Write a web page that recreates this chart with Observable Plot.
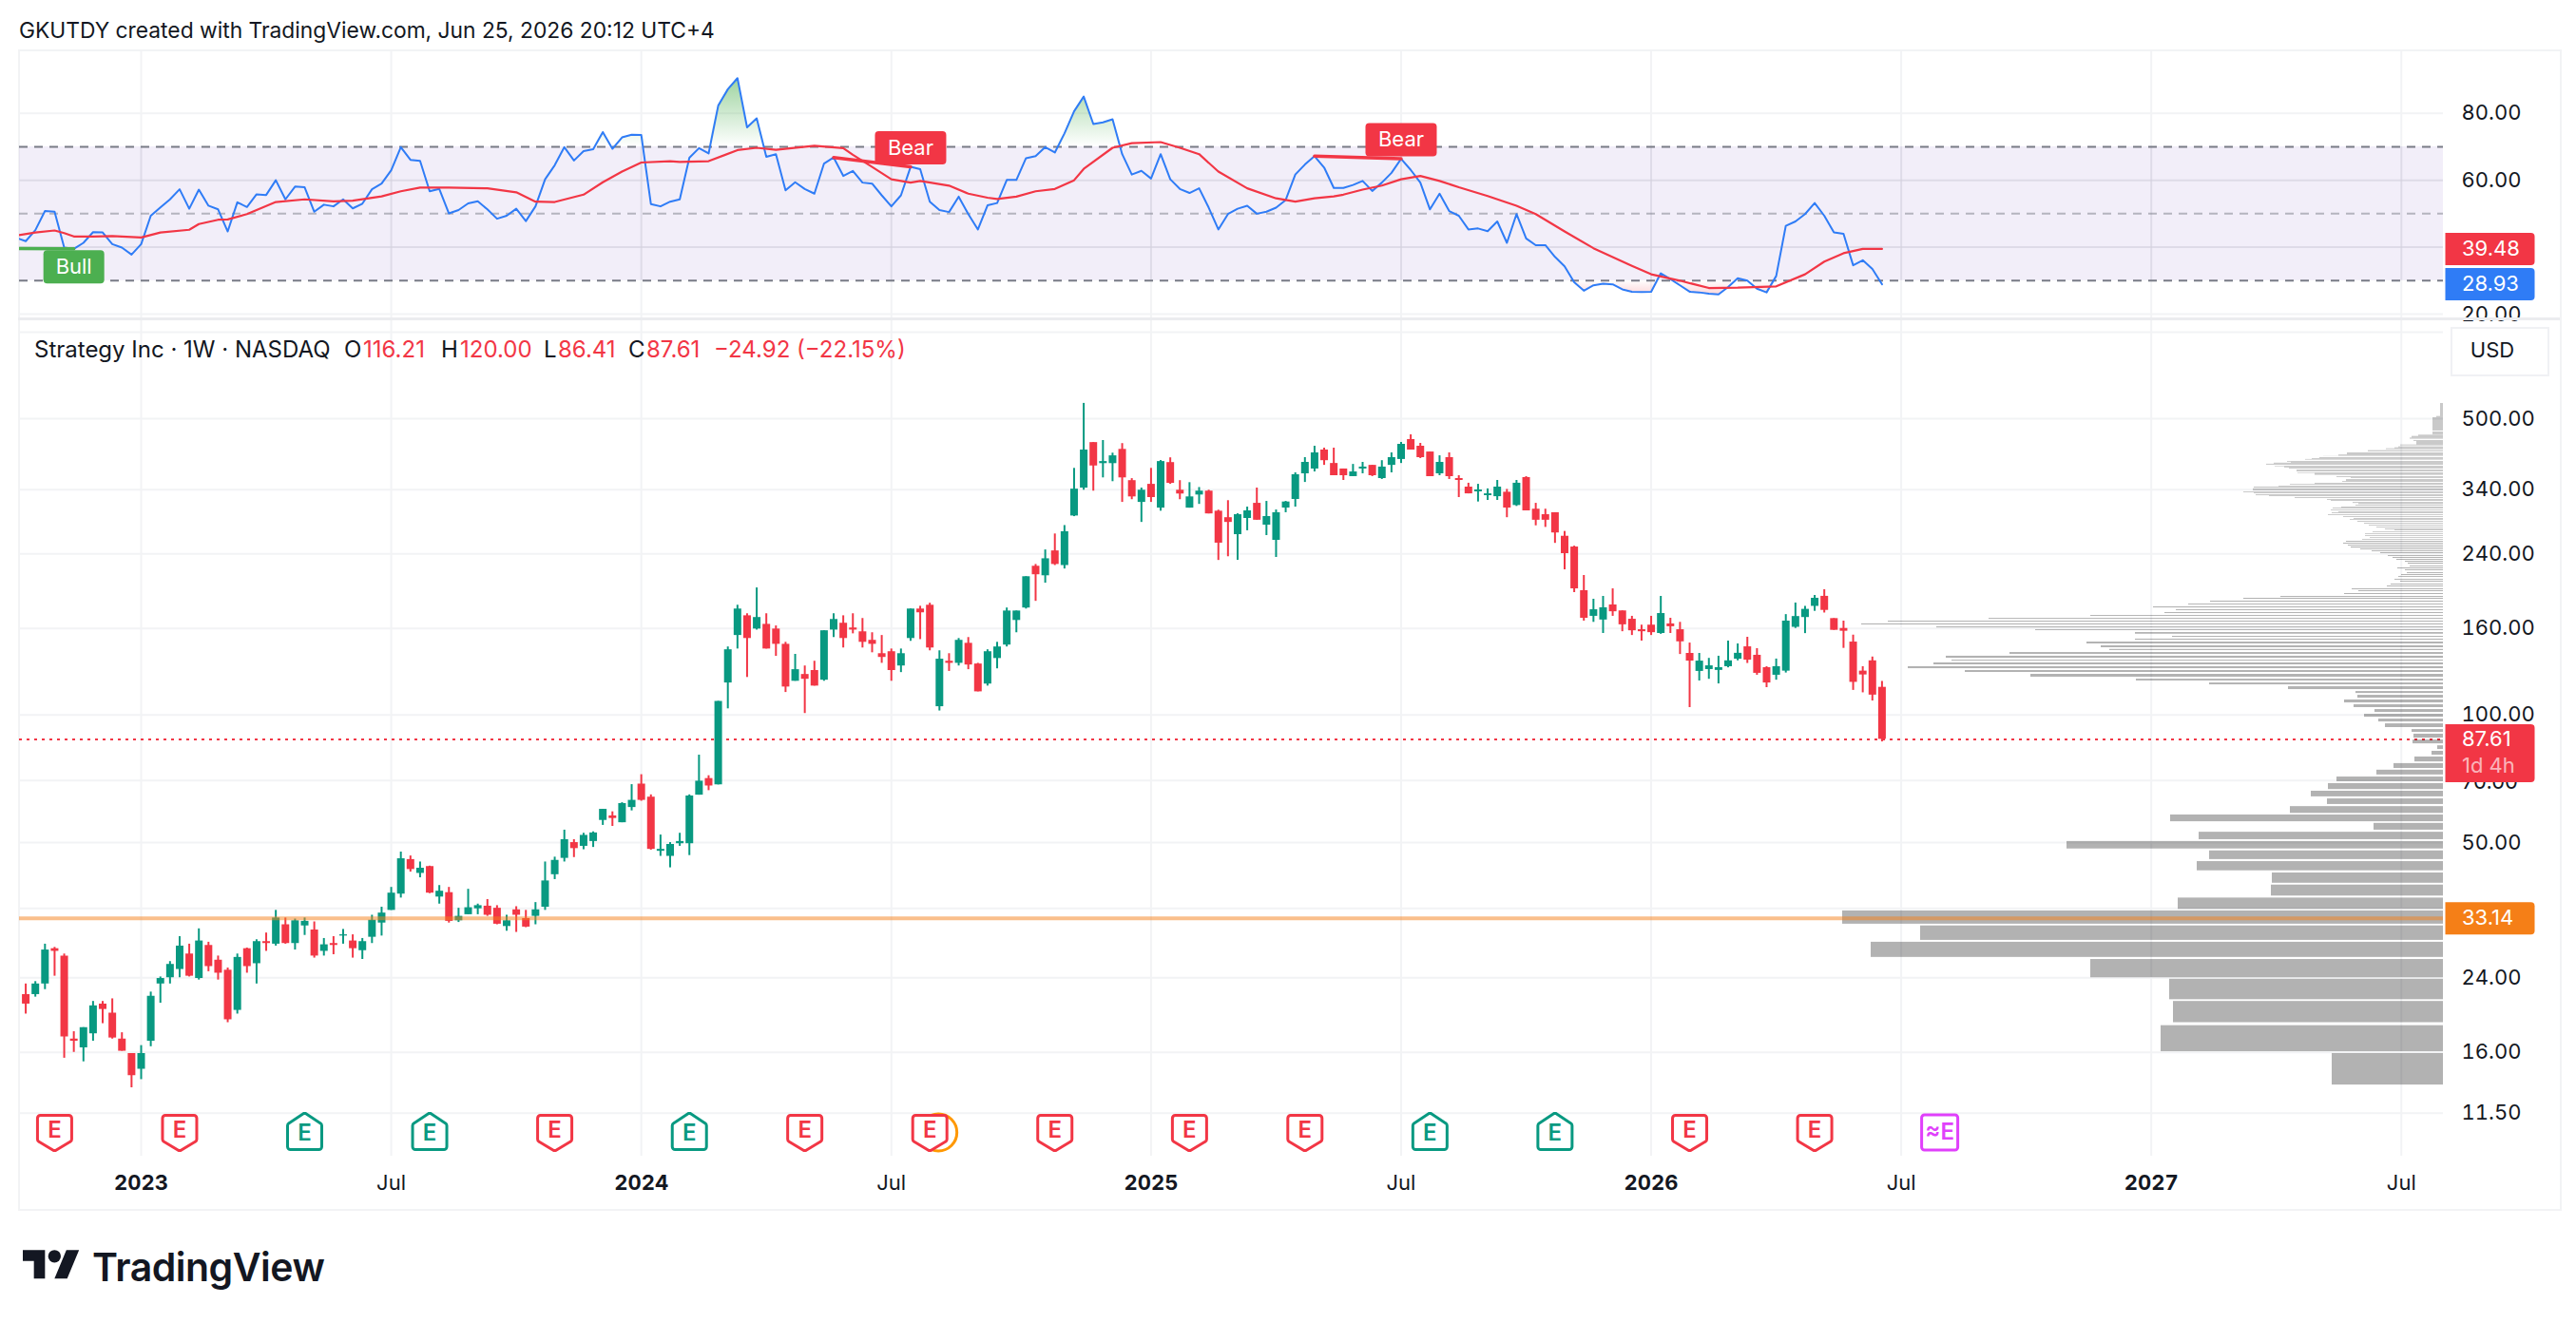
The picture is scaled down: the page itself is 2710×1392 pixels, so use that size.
<!DOCTYPE html>
<html><head><meta charset="utf-8">
<script src="https://cdn.jsdelivr.net/npm/d3@7"></script>
<script src="https://cdn.jsdelivr.net/npm/@observablehq/plot@0.6"></script>
<style>
html,body{margin:0;background:#fff;}
#page{position:relative;width:2710px;height:1392px;overflow:hidden;font-family:Inter,sans-serif;color:#131722;}
#page svg{position:absolute;left:0;overflow:visible;background:transparent;}
.t{position:absolute;white-space:pre;line-height:1;}
</style></head><body><div id="page"></div>
<script>
// ---- weekly candles, first bar = week of 2022-10-10 ----
const firstWeekOffset = -12;
const opens = [
21.9,21.9,23.2,28.1,27.0,17.2,16.4,17.7,20.8,19.8,17.2,15.9,14.6,17.0,23.2,24.0,25.1,27.3,23.9,28.6,
26.4,25.0,20.1,28.1,25.9,29.2,28.8,32.0,28.9,31.8,31.1,27.7,28.9,30.1,29.3,27.8,29.9,32.3,34.6,37.8,
45.6,42.3,43.9,37.2,38.1,32.7,33.8,34.9,35.4,35.0,31.7,34.7,33.1,33.5,35.2,42.0,45.9,50.0,49.0,50.3,
56.4,57.8,55.7,60.5,68.7,64.0,47.7,46.4,49.7,49.7,64.7,70.8,68.4,119.0,154.0,171.4,159.5,163.6,159.5,146.8,
120.1,124.6,127.3,120.8,158.6,164.6,160.4,157.1,150.0,139.5,141.0,130.5,151.5,177.8,181.5,104.6,133.9,132.4,147.6,131.9,
118.3,135.9,146.2,167.1,178.8,224.3,213.0,243.8,225.2,294.7,342.9,439.1,391.7,391.7,423.2,357.1,317.3,350.0,307.6,393.9,
339.0,307.6,330.3,337.3,302.5,292.0,266.3,290.8,315.7,280.4,258.2,307.7,322.4,370.6,380.4,421.7,392.0,380.4,365.0,380.4,
388.0,361.2,388.0,400.6,446.3,430.5,417.2,370.6,404.6,361.2,344.8,336.0,329.1,327.3,335.3,312.0,363.0,305.8,296.8,300.0,
264.0,249.0,196.4,170.9,167.5,181.8,176.0,168.2,158.9,162.9,155.7,164.0,158.9,139.7,126.7,128.0,127.4,130.0,135.4,144.8,
138.3,129.3,124.1,126.9,161.0,169.8,180.4,190.5,168.8,160.0,148.6,126.9,134.2,116.21];
const highs = [
23.2,23.5,28.8,28.3,27.3,17.9,18.3,21.1,21.1,21.4,17.8,15.9,16.6,22.2,24.1,26.2,30.0,28.8,31.3,29.1,
27.0,25.3,27.3,28.2,29.5,30.6,34.6,33.2,33.0,33.2,32.5,29.7,30.0,31.2,30.3,29.7,33.7,35.2,39.2,47.5,
46.5,45.0,44.0,39.6,39.2,35.0,38.8,35.8,36.7,35.5,33.7,35.3,34.6,36.1,45.0,46.2,53.5,50.8,52.6,53.0,
59.9,59.1,62.1,68.5,72.3,64.8,52.1,50.0,52.6,64.8,80.4,71.9,107.7,144.7,181.5,173.3,199.4,173.3,162.2,148.4,
139.0,130.5,133.9,158.0,173.3,171.4,173.3,168.9,156.3,154.0,143.1,143.1,177.8,180.5,183.5,141.7,139.5,151.5,152.3,132.4,
142.5,148.4,178.8,175.9,211.9,226.5,245.1,267.3,279.8,381.7,543.3,439.1,444.0,414.6,436.7,361.0,343.0,381.7,398.3,404.2,
357.1,353.2,344.0,339.0,304.2,320.3,298.3,309.3,343.0,319.0,304.5,319.0,372.5,404.6,430.5,426.0,426.0,380.4,390.0,394.3,
388.0,398.0,415.2,439.5,458.0,437.2,417.2,408.7,415.2,366.8,352.1,350.0,341.5,357.5,340.5,357.5,364.9,315.7,305.8,300.0,
271.0,250.2,213.3,187.5,190.4,198.4,176.0,170.9,162.9,170.9,190.4,169.1,165.4,147.8,139.7,136.0,137.6,149.4,147.1,152.5,
143.4,130.0,135.5,172.5,183.7,180.4,191.4,197.5,168.8,166.5,154.3,130.0,137.0,120.00];
const lows = [
19.7,21.6,22.5,24.2,15.5,16.0,15.2,17.0,18.7,17.2,16.1,13.2,13.8,16.5,20.9,23.2,24.0,24.1,23.7,24.8,
23.7,18.8,19.7,24.6,23.2,27.7,28.5,28.8,27.9,30.2,26.7,27.0,27.2,28.8,26.7,26.5,28.9,30.1,34.6,37.0,
42.6,41.3,37.9,35.8,32.3,32.4,33.8,33.8,33.5,32.0,30.9,30.7,31.5,32.0,34.6,40.9,45.0,46.1,48.1,48.7,
54.9,54.6,55.7,59.4,62.6,48.0,46.4,43.6,49.0,46.6,64.7,66.3,68.4,103.4,143.1,122.6,158.6,143.1,137.5,113.0,
120.1,100.8,117.0,120.1,152.3,143.9,155.4,143.9,140.2,132.4,120.1,125.9,149.2,150.6,141.7,102.2,126.7,130.5,127.9,113.4,
117.0,128.5,144.7,156.3,177.8,185.4,204.6,225.2,221.0,293.7,339.0,337.3,362.5,355.1,317.3,322.0,284.6,317.3,302.5,350.0,
322.0,307.6,313.9,298.1,231.5,236.2,231.7,272.0,288.0,265.0,235.3,300.0,309.3,353.6,374.4,388.0,366.8,357.5,365.0,370.6,
365.0,359.4,372.5,392.0,421.7,402.6,364.9,366.8,359.4,325.7,332.4,318.0,320.7,320.7,292.0,310.4,303.0,279.4,277.0,254.0,
220.0,194.4,166.5,165.4,155.7,170.9,157.2,154.0,149.4,154.0,155.0,155.7,138.9,104.1,120.3,121.4,118.4,129.2,134.2,132.3,
124.1,116.0,120.8,125.6,160.0,155.6,175.6,174.0,158.4,143.6,114.3,112.8,107.9,86.41];
const closes = [
20.8,23.2,27.9,27.7,17.4,17.0,18.3,20.6,20.2,17.3,16.1,14.1,15.9,21.7,23.9,25.8,28.5,24.2,29.3,25.5,
24.6,19.1,26.8,25.5,29.2,28.9,33.2,28.9,32.7,32.6,27.0,28.7,28.6,30.3,28.1,29.2,32.8,34.1,38.0,45.8,
43.2,43.5,38.0,38.4,32.6,33.5,35.1,35.5,33.7,32.1,32.7,33.7,31.6,34.7,40.6,45.4,50.8,48.4,52.0,52.7,
59.9,57.0,61.8,62.9,62.9,48.2,48.2,49.5,50.3,64.4,69.8,68.0,107.7,142.5,177.8,151.5,169.8,143.1,146.8,116.4,
127.9,121.4,117.0,158.0,168.0,151.5,158.6,148.4,146.8,136.7,127.3,139.5,177.8,174.2,143.9,135.4,132.4,150.0,131.2,113.4,
141.0,144.7,175.9,175.9,211.9,214.2,233.6,226.5,270.6,341.0,421.7,386.7,396.1,408.6,362.5,326.9,339.0,325.7,396.1,351.9,
332.1,326.9,337.3,298.1,254.3,284.6,296.8,303.0,288.0,293.8,300.0,318.0,368.7,394.3,415.2,398.0,366.8,366.8,374.4,384.4,
366.8,384.4,404.6,435.0,421.7,404.6,364.9,394.3,364.9,357.5,332.4,339.5,332.4,344.8,307.7,352.1,303.0,288.0,288.0,268.8,
240.2,198.4,169.1,177.1,179.0,175.2,163.2,158.0,157.2,156.4,173.5,161.5,148.8,134.0,134.0,130.6,129.3,134.2,139.8,134.7,
125.4,119.0,130.0,166.5,170.7,177.5,188.5,176.5,158.4,157.6,119.4,124.3,111.4,87.61];

// ---- RSI, first value = week before the first candle ----
const rsiFirstWeekOffset = -13;
const rsiValues = [
42.8,41.8,45.1,50.8,50.6,39.9,39.5,41.3,44.5,44.4,40.9,39.9,37.8,
40.9,49.4,51.9,54.3,57.3,51.5,57.2,52.4,51.3,44.7,53.4,52.0,55.8,55.6,60.0,54.3,58.1,57.9,50.6,52.7,52.2,54.3,51.6,53.0,57.3,59.0,63.0,
69.9,66.1,65.8,56.7,57.4,50.1,51.1,53.1,53.7,51.3,48.5,49.4,51.5,47.8,52.2,60.3,64.5,69.9,65.9,68.7,69.3,74.4,69.4,72.8,73.6,73.5,
52.9,52.2,53.6,54.3,66.7,69.6,68.0,82.3,87.2,90.5,75.8,78.5,67.0,67.8,57.0,59.4,57.4,56.0,65.0,66.8,61.3,62.8,
59.3,59.0,55.5,52.2,55.5,64.0,63.3,53.6,51.1,50.5,55.1,49.9,45.3,52.5,53.2,60.1,60.1,66.6,67.2,69.9,68.3,74.0,80.6,85.0,76.8,77.3,78.2,
67.8,61.7,62.8,60.5,67.8,60.3,57.4,56.2,57.6,51.8,45.3,49.9,51.5,52.4,50.0,50.6,51.8,54.1,61.7,64.7,67.2,63.8,57.7,57.7,58.6,59.8,56.8,59.3,62.2,66.4,63.1,59.3,
51.3,56.0,50.8,49.4,45.3,45.6,44.8,47.7,41.3,49.9,42.6,40.6,40.6,37.1,34.3,29.5,27.0,28.6,29.1,28.9,27.4,26.7,26.6,26.7,32.2,30.5,28.6,26.7,26.5,26.1,
25.9,28.1,30.7,30.0,27.6,26.5,31.4,46.4,47.7,49.9,53.2,49.4,44.4,44.0,34.6,36.1,33.5,28.93];
const rsiMaWeeks = [-13,-11,-9,-8,-7,-5,-3,0,2,5,6,8,9,11,14,17,20,22,25,27,29,32,36,39,41,43,46,48,50,52,55,56,59,62,64,66,70,73,74,76,78,80,81,84,86,88,89,91,93,95,97,98,101,103,106,108,110,112,115,118,120,122,124,125,127,129,131,133,135,137,140,143,145,148,151,155,157,160,163,166,170,173,175,177,179,181];
const rsiMaValues = [43.5,44.4,45.0,44.2,43.2,43.2,43.3,42.9,44.4,45.2,46.9,48.2,48.3,49.9,53.5,54.3,53.7,53.9,55.2,56.7,57.8,57.8,57.6,56.4,53.6,53.5,55.7,59.4,62.6,65.3,65.7,65.5,65.7,69.0,69.7,69.1,70.3,69.6,67.6,64.0,60.3,59.3,59.8,58.4,56.0,54.8,54.4,55.1,56.7,57.4,60.0,63.4,69.7,71.1,71.4,69.7,67.8,62.6,57.6,54.6,53.6,54.6,55.2,55.7,57.2,58.4,60.3,61.3,59.8,57.9,55.3,52.4,49.9,44.7,39.7,34.4,31.9,30.0,27.8,27.9,28.3,31.9,35.7,38.2,39.5,39.48];
const bullPivot = {week:-7, rsi:39.5}, bearPivots = [{week:80, rsi:64.0},{week:131, rsi:66.4}];
const divergenceLines = [
  {color:"bull", pts:[[-13,39.6],[-7,39.5]]},
  {color:"bear", pts:[[72,66.8],[80,64.0]]},
  {color:"bear", pts:[[122,67.2],[131,66.4]]}];
const rsiTicks = [80,60,40,20];
const rsiLastLabels = [{v:39.48,c:"#f23645"},{v:28.93,c:"#2f7cf6"}];

// ---- price axis and time axis ----
const priceLabels = [500,340,240,160,100,50,24,16,11.5];
const partlyHiddenLabel = [70];
const priceGrid = [800,500,340,240,160,100,70,50,35,24,16,11.5];
const lastClose = 87.61, orangeLevel = 33.14;
const yearTicks = ["2023-01-02","2024-01-01","2025-01-06","2026-01-05","2027-01-04"].map(d=>new Date(d));
const julTicks = ["2023-07-03","2024-07-01","2025-07-07","2026-07-06","2027-07-05"].map(d=>new Date(d));
// earnings markers: week offset, kind
const earningsWeeks = [-9,4,17,30,43,57,69,82,95,109,121,134,147,161,174];
const earningsKinds = ["miss","miss","beat","beat","miss","beat","miss","miss","miss","miss","miss","beat","beat","miss","miss"];
const dividendWeek = 82, upcomingEarningsWeek = 187;

// ---- volume profile (price bands and relative volume) ----
const profileHigh = [543,506.1,502.7,465.2,457.3,454.1,450.2,444.1,441.8,433.5,429.1,426.9,424.7,420.3,415.2,410.6,407.9,404.7,402.5,400.7,396.4,394.5,392.7,390.5,386.3,385,382.5,378.4,372.6,371.3,364.9,363,359.3,355.5,352,350,346.6,345,341.8,336,334.3,330.9,329,325.8,322.4,320.8,317.4,315.5,312.5,309.4,307.8,304.6,301.6,300,296.8,293.8,290.8,289.3,286.4,283.4,280.5,277.6,274.8,273.3,270.5,267.7,265,262.2,259.6,256.9,254.3,251.6,249.1,246.5,243.9,241.5,237.7,235.3,232.9,230.5,228.2,224.6,222.3,220,216.6,214.4,212.2,209,206.9,203.6,201.5,198.4,196.4,193.4,190.4,188.5,185.6,182.7,179.9,177.1,174.4,171.7,169,166.5,164,161.4,158.9,156.5,153.3,151,148.6,145.6,142.8,140.4,137.6,134.7,132.7,130,127.3,124.7,121.5,119,116.6,113.6,111.3,108.5,105.7,103,100.4,97.8,95.3,92.4,90.1,87.3,84.6,82.1,79.6,76.8,74.1,71.4,68.9,66.1,63.4,60.8,58.1,55.5,52.9,50.3,47.8,45.1,42.4,39.7,37,34.5,31.8,29.1,26.5,23.8,21.1,18.5,15.9];
const profileLow = [506.1,502.7,467.6,458,454.1,450.2,447.2,441.8,433.5,431.3,426.9,424.7,422.5,417.4,410.6,407.9,407.5,402.5,400.7,399.1,394.5,392.7,390.5,388.3,385,382.5,380.4,374.5,371.3,367.5,363,361.3,355.5,353.8,350,348.4,345,343,337.7,334.3,332.6,329,327.4,324,320.8,319.1,315.5,313.6,310.9,307.8,306.2,303.1,300,298.4,295.3,292.3,289.3,287.9,284.8,281.9,279.1,276.2,273.3,271.9,269.2,266.4,263.7,261,258.3,255.6,253,250.4,247.7,245.3,242.7,240.2,236.5,234.1,231.7,229.3,226.9,223.5,221.1,218.9,215.5,213.3,211.2,208,205.8,202.6,200.5,197.4,195.4,192.4,189.4,187.5,184.6,181.8,178.9,176.2,173.5,170.8,168.1,165.6,163.1,160.5,158.1,155.1,152.5,150.1,147.1,144.1,141.9,139,136.1,134,131.3,128.6,126,122.8,120.3,117.8,114.8,112.4,109.6,106.8,104.1,101.4,98.8,96.3,93.4,91,88.2,85.5,82.9,80.4,77.5,74.8,72.2,69.6,66.7,64.1,61.5,58.6,56,53.5,50.8,48.3,45.6,42.9,40.1,37.4,34.8,32.1,29.4,26.8,24,21.3,18.8,16.06,13.4];
const profileVolume = [3,7,11,11,26,33,35,31,28,45,47,51,60,79,101,110,126,130,138,145,164,160,178,186,177,167,162,154,153,135,112,97,102,106,135,161,173,199,200,210,199,197,183,156,122,118,95,89,92,107,116,118,110,117,121,105,94,98,90,83,78,70,61,51,74,82,82,77,85,102,105,100,97,87,75,66,58,53,49,40,37,35,48,40,38,44,47,51,45,55,59,96,89,104,171,210,245,268,305,281,293,371,478,584,612,533,429,324,285,324,375,360,351,456,523,517,536,563,503,434,323,246,163,92,90,104,94,72,83,68,61,33,31,32,6,12,30,52,70,112,121,139,122,161,287,73,257,396,246,259,180,181,279,632,550,602,371,288,284,297,117];

// ---- helpers ----
const week = w => new Date(Date.UTC(2023,0,2) + w*7*864e5);
const candles = opens.map((o,i)=>({d:week(firstWeekOffset+i),o,h:highs[i],l:lows[i],c:closes[i]}));
const up = candles.filter(d=>d.c>=d.o), down = candles.filter(d=>d.c<d.o);
const rsi = rsiValues.map((r,i)=>({d:week(rsiFirstWeekOffset+i),r}));
const rsiMa = rsiMaValues.map((r,i)=>({d:week(rsiMaWeeks[i]),r}));
const xDomain = [week(-12.65), week(239.37)];
const GREEN="#089981", RED="#f23645", BLUE="#2f7cf6", GRID="#f2f3f5", ORANGE="#f57f17", TEXT="#131722";
const fontFamily="Inter,sans-serif";
const lab = 22;
function box(x0,y0,x1,y1,rl,rr){return {draw(c){
  c.moveTo(x0+rl,y0);c.lineTo(x1-rr,y0);
  if(rr)c.arcTo(x1,y0,x1,y0+rr,rr);
  c.lineTo(x1,y1-rr);
  if(rr)c.arcTo(x1,y1,x1-rr,y1,rr);
  c.lineTo(x0+rl,y1);
  if(rl)c.arcTo(x0,y1,x0,y1-rl,rl);
  c.lineTo(x0,y0+rl);
  if(rl)c.arcTo(x0,y0,x0+rl,y0,rl);
  c.closePath();
}};}
const shieldDown={draw(c){c.moveTo(-15,-18);c.lineTo(15,-18);c.arcTo(18,-18,18,-15,3);c.lineTo(18,7);c.arcTo(18,9,16,10,3);c.lineTo(1,19);c.lineTo(-1,19);c.lineTo(-16,10);c.arcTo(-18,9,-18,7,3);c.lineTo(-18,-15);c.arcTo(-18,-18,-15,-18,3);c.closePath();}};
const shieldUp={draw(c){c.moveTo(-15,18);c.lineTo(15,18);c.arcTo(18,18,18,15,3);c.lineTo(18,-7);c.arcTo(18,-9,16,-10,3);c.lineTo(1,-20);c.lineTo(-1,-20);c.lineTo(-16,-10);c.arcTo(-18,-9,-18,-7,3);c.lineTo(-18,15);c.arcTo(-18,18,-15,18,3);c.closePath();}};

const page=document.getElementById("page");
function addText(s,x,y,size,extra={}){const e=document.createElement("div");e.className="t";e.textContent=s;e.style.left=x+"px";e.style.top=(y-size/2)+"px";e.style.fontSize=size+"px";Object.assign(e.style,extra);page.appendChild(e);return e;}
function addBox(x,y,w,h,st){const e=document.createElement("div");e.style.position="absolute";e.style.left=x+"px";e.style.top=y+"px";e.style.width=w+"px";e.style.height=h+"px";Object.assign(e.style,st);page.appendChild(e);return e;}
function place(svg,top){svg.style.top=top+"px";page.appendChild(svg);}

// frame
addBox(19,52,2672,1218,{border:"2px solid #f2f3f5",boxSizing:"content-box"});

// ---- RSI pane ----
const gradients = () => {
  const defs=d3.create("svg:defs");
  const g=defs.append("linearGradient").attr("id","obFill").attr("x1",0).attr("x2",0).attr("y1",0).attr("y2",1);
  g.append("stop").attr("offset","0%").attr("stop-color","#4caf50").attr("stop-opacity",.55);
  g.append("stop").attr("offset","100%").attr("stop-color","#4caf50").attr("stop-opacity",0);
  const r=defs.append("linearGradient").attr("id","osFill").attr("x1",0).attr("x2",0).attr("y1",0).attr("y2",1);
  r.append("stop").attr("offset","0%").attr("stop-color","#f23645").attr("stop-opacity",0);
  r.append("stop").attr("offset","100%").attr("stop-color","#f23645").attr("stop-opacity",.2);
  return defs.node();
};
const rsiPlot = Plot.plot({
  width:2710,height:280,marginLeft:20,marginRight:140,marginTop:0,marginBottom:0,
  style:{fontFamily,fontSize:lab+"px",color:TEXT,background:"transparent"},
  x:{type:"utc",domain:xDomain,axis:null},
  y:{domain:[18.87,98.38],axis:null},
  marks:[
    gradients,
    Plot.gridX(yearTicks.concat(julTicks),{stroke:GRID,strokeOpacity:1,strokeWidth:2}),
    Plot.ruleY(rsiTicks,{stroke:GRID,strokeWidth:2}),
    Plot.rect([0],{x1:()=>xDomain[0],x2:()=>xDomain[1],y1:()=>30,y2:()=>70,fill:"#7e57c2",fillOpacity:.1}),
    Plot.gridX(yearTicks.concat(julTicks),{stroke:"#000",strokeOpacity:.03,strokeWidth:2,y1:30,y2:70}),
    Plot.ruleY(rsiTicks.filter(t=>t>30&&t<70),{stroke:"#000",strokeOpacity:.03,strokeWidth:2}),
    Plot.ruleY([70,30],{stroke:"#787b86",strokeWidth:2,strokeDasharray:"9,7"}),
    Plot.ruleY([50],{stroke:"#787b86",strokeOpacity:.5,strokeWidth:2,strokeDasharray:"9,7"}),
    Plot.areaY(rsi,{x:"d",y1:()=>70,y2:d=>Math.max(d.r,70),fill:"url(#obFill)"}),
    Plot.areaY(rsi,{x:"d",y1:()=>30,y2:d=>Math.min(d.r,30),fill:"url(#osFill)"}),
    Plot.line(rsi,{x:"d",y:"r",stroke:BLUE,strokeWidth:2,clip:"frame"}),
    Plot.line(rsiMa,{x:"d",y:"r",stroke:RED,strokeWidth:2.2,clip:"frame"}),
    ...divergenceLines.map(l=>Plot.line(l.pts,{x:p=>week(p[0]),y:p=>p[1],stroke:l.color==="bull"?"#4caf50":RED,strokeWidth:3.5,clip:"frame"})),
    Plot.axisY({anchor:"right",ticks:rsiTicks,tickSize:0,tickPadding:19,tickFormat:d=>d.toFixed(2),fontSize:lab,label:null}),
    Plot.dot([bullPivot],{x:d=>week(d.week),y:"rsi",dy:19,symbol:box(-32,-17.5,32,17.5,4,4),fill:"#4caf50",stroke:"none"}),
    Plot.text([bullPivot],{x:d=>week(d.week),y:"rsi",dy:19,text:()=>"Bull",fill:"#fff",fontSize:lab}),
    Plot.dot(bearPivots,{x:d=>week(d.week),y:"rsi",dy:-20,symbol:box(-37.5,-17.5,37.5,17.5,4,4),fill:RED,stroke:"none"}),
    Plot.text(bearPivots,{x:d=>week(d.week),y:"rsi",dy:-20,text:()=>"Bear",fill:"#fff",fontSize:lab}),
    ...rsiLastLabels.map(b=>Plot.dot([b],{y:"v",frameAnchor:"right",symbol:box(2,-17,96,17,0,4),fill:b.c,stroke:"none"})),
    ...rsiLastLabels.map(b=>Plot.text([b],{y:"v",frameAnchor:"right",dx:19.5,textAnchor:"start",text:d=>d.v.toFixed(2),fill:"#fff",fontSize:lab})),
  ]
});
place(rsiPlot,54);

// separator
addBox(19,334,2674,3,{background:"#ebecef"});

// ---- Price pane ----
const yDomain=[9.104,850.9];
const missWeeks = earningsWeeks.filter((w,i)=>earningsKinds[i]==="miss");
const beatWeeks = earningsWeeks.filter((w,i)=>earningsKinds[i]==="beat");
const pricePlot = Plot.plot({
  width:2710,height:936,marginLeft:20,marginRight:140,marginTop:0,marginBottom:57,
  style:{fontFamily,fontSize:lab+"px",color:TEXT,background:"transparent"},
  x:{type:"utc",domain:xDomain,axis:null},
  y:{type:"log",domain:yDomain,axis:null},
  marks:[
    Plot.gridX(yearTicks.concat(julTicks),{stroke:GRID,strokeOpacity:1,strokeWidth:2}),
    Plot.ruleY(priceGrid,{stroke:GRID,strokeWidth:2}),
    Plot.ruleY([lastClose],{stroke:RED,strokeWidth:2,strokeDasharray:"3,5"}),
    Plot.ruleX(up,{x:"d",y1:"l",y2:"h",stroke:GREEN,strokeWidth:2}),
    Plot.ruleX(down,{x:"d",y1:"l",y2:"h",stroke:RED,strokeWidth:2}),
    Plot.ruleX(up,{x:"d",y1:"o",y2:"c",stroke:GREEN,strokeWidth:8}),
    Plot.ruleX(down,{x:"d",y1:"o",y2:"c",stroke:RED,strokeWidth:8}),
    // earnings row
    Plot.dot([dividendWeek],{x:week,frameAnchor:"bottom",dy:-25,dx:9,r:19.5,fill:"none",stroke:"#ff9800",strokeWidth:3}),
    Plot.dot(missWeeks,{x:week,frameAnchor:"bottom",dy:-25,symbol:shieldDown,fill:"#fff",stroke:RED,strokeWidth:3}),
    Plot.dot(beatWeeks,{x:week,frameAnchor:"bottom",dy:-25,symbol:shieldUp,fill:"#fff",stroke:GREEN,strokeWidth:3}),
    Plot.text(missWeeks,{x:week,frameAnchor:"bottom",lineAnchor:"middle",dy:-27,text:()=>"E",fill:RED,fontSize:24,fontWeight:600}),
    Plot.text(beatWeeks,{x:week,frameAnchor:"bottom",lineAnchor:"middle",dy:-24,text:()=>"E",fill:GREEN,fontSize:24,fontWeight:600}),
    Plot.dot([upcomingEarningsWeek],{x:week,frameAnchor:"bottom",dy:-25,symbol:box(-19,-18.5,19,18.5,3,3),fill:"#fff",stroke:"#e040fb",strokeWidth:3}),
    Plot.text([upcomingEarningsWeek],{x:week,frameAnchor:"bottom",lineAnchor:"middle",dy:-25,text:()=>"≈E",fill:"#e040fb",fontSize:24,fontWeight:600}),
    // axes
    Plot.axisX({ticks:yearTicks,tickSize:0,tickPadding:20,tickFormat:d=>String(d.getUTCFullYear()),fontSize:lab,fontWeight:700,label:null}),
    Plot.axisX({ticks:julTicks,tickSize:0,tickPadding:20,tickFormat:()=>"Jul",fontSize:lab,label:null}),
    Plot.axisY({anchor:"right",ticks:priceLabels,tickSize:0,tickPadding:19,tickFormat:d=>d.toFixed(2),fontSize:lab,label:null}),
    Plot.text(partlyHiddenLabel,{y:d=>d,frameAnchor:"right",dx:19.5,dy:2,textAnchor:"start",text:d=>d.toFixed(2),fill:TEXT,fontSize:lab}),
    // last-value badges
    Plot.dot([lastClose],{y:d=>d,frameAnchor:"right",symbol:box(2,-16,96,45,0,4),fill:RED,stroke:"none"}),
    Plot.text([lastClose],{y:d=>d,frameAnchor:"right",dx:19.5,textAnchor:"start",text:d=>d.toFixed(2),fill:"#fff",fontSize:lab}),
    Plot.text([lastClose],{y:d=>d,frameAnchor:"right",dx:19.5,dy:28,textAnchor:"start",text:()=>"1d 4h",fill:"#fff",fillOpacity:.65,fontSize:lab}),
    Plot.dot([orangeLevel],{y:d=>d,frameAnchor:"right",symbol:box(2,-17,96,17,0,4),fill:ORANGE,stroke:"none"}),
    Plot.text([orangeLevel],{y:d=>d,frameAnchor:"right",dx:19.5,textAnchor:"start",text:d=>d.toFixed(2),fill:"#fff",fontSize:lab}),
  ]
});
place(pricePlot,337);

// ---- Volume profile overlay (own x scale: relative volume), orange level on top ----
const profile = profileVolume.map((v,i)=>({v,hi:profileHigh[i],lo:profileLow[i]}));
const profilePlot = Plot.plot({
  width:2710,height:936,marginLeft:20,marginRight:140,marginTop:0,marginBottom:57,
  style:{background:"transparent",pointerEvents:"none"},
  x:{domain:[2550,0],axis:null},
  y:{type:"log",domain:yDomain,axis:null},
  marks:[
    Plot.rect(profile,{x1:()=>0,x2:"v",y1:"lo",y2:"hi",fill:"#000",fillOpacity:d=>d.lo>258?.21:.3,shapeRendering:"auto"}),
    Plot.ruleY([orangeLevel],{stroke:ORANGE,strokeOpacity:.5,strokeWidth:4})
  ]
});
place(profilePlot,337);

// ---- Texts ----
addText("GKUTDY created with TradingView.com, Jun 25, 2026 20:12 UTC+4",20,32,22.8);
addText("Strategy Inc · 1W · NASDAQ",36,368,24);
[["O",362],["H",464],["L",572],["C",661]].forEach(([s,x])=>addText(s,x,368,24));
[["116.21",382],["120.00",484],["86.41",587],["87.61",680],["−24.92 (−22.15%)",751]].forEach(([s,x])=>addText(s,x,368,24,{color:RED}));
addBox(2578,344,104,52,{border:"2px solid #f0f1f4",borderRadius:8,boxSizing:"border-box",background:"#fff"});
addText("USD",2622,368,22,{transform:"translateX(-50%)"});

// ---- Logo ----
const ns="http://www.w3.org/2000/svg";
const logo=document.createElementNS(ns,"svg");
logo.setAttribute("width",60);logo.setAttribute("height",31);logo.setAttribute("viewBox","0 4 36 18.4");
logo.style.left="24px";logo.style.top="1315px";
logo.innerHTML='<path fill="#131722" d="M14 22H7V11H0V4h14v18zM28 22h-8l7.5-18h8L28 22z"/><circle fill="#131722" cx="20" cy="8" r="4"/>';
page.appendChild(logo);
addText("TradingView",97,1333,41,{fontWeight:600,letterSpacing:"-0.5px"});
</script></body></html>
